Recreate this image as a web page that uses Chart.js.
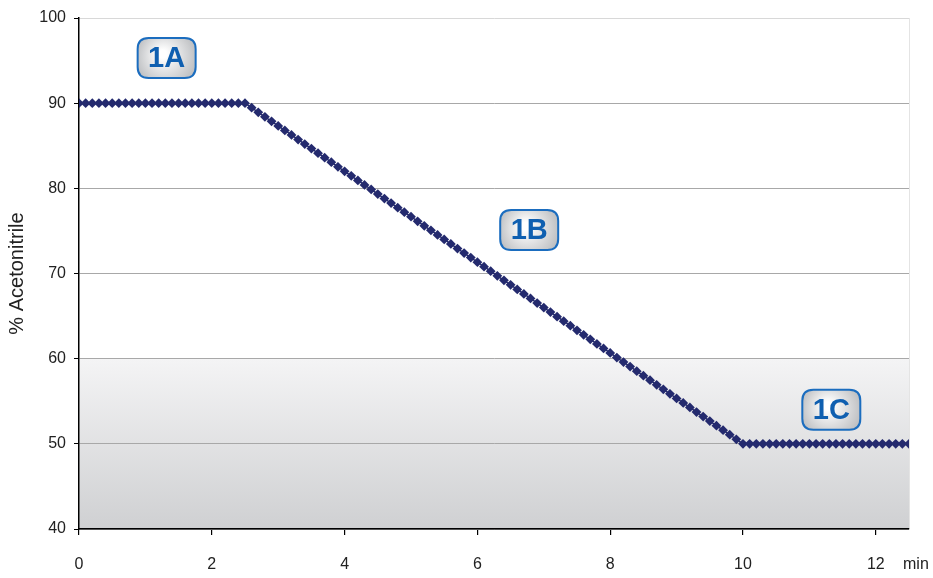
<!DOCTYPE html>
<html>
<head>
<meta charset="utf-8">
<script src="https://cdn.jsdelivr.net/npm/chart.js@4"></script>
<style>
  html, body { margin: 0; padding: 0; background: #fff; }
  #wrap { width: 933px; height: 578px; position: relative; }
</style>
</head>
<body>
<div id="wrap"><canvas id="myChart"></canvas></div>
<script>
// tiempo (min), un punto cada 0.1 min
const times = [
  0.0, 0.1, 0.2, 0.3, 0.4, 0.5, 0.6, 0.7, 0.8, 0.9,
  1.0, 1.1, 1.2, 1.3, 1.4, 1.5, 1.6, 1.7, 1.8, 1.9,
  2.0, 2.1, 2.2, 2.3, 2.4, 2.5, 2.6, 2.7, 2.8, 2.9,
  3.0, 3.1, 3.2, 3.3, 3.4, 3.5, 3.6, 3.7, 3.8, 3.9,
  4.0, 4.1, 4.2, 4.3, 4.4, 4.5, 4.6, 4.7, 4.8, 4.9,
  5.0, 5.1, 5.2, 5.3, 5.4, 5.5, 5.6, 5.7, 5.8, 5.9,
  6.0, 6.1, 6.2, 6.3, 6.4, 6.5, 6.6, 6.7, 6.8, 6.9,
  7.0, 7.1, 7.2, 7.3, 7.4, 7.5, 7.6, 7.7, 7.8, 7.9,
  8.0, 8.1, 8.2, 8.3, 8.4, 8.5, 8.6, 8.7, 8.8, 8.9,
  9.0, 9.1, 9.2, 9.3, 9.4, 9.5, 9.6, 9.7, 9.8, 9.9,
  10.0, 10.1, 10.2, 10.3, 10.4, 10.5, 10.6, 10.7, 10.8, 10.9,
  11.0, 11.1, 11.2, 11.3, 11.4, 11.5, 11.6, 11.7, 11.8, 11.9,
  12.0, 12.1, 12.2, 12.3, 12.4, 12.5
];

// % acetonitrilo
const acetonitrile = [
  90, 90, 90, 90, 90, 90, 90, 90, 90, 90,
  90, 90, 90, 90, 90, 90, 90, 90, 90, 90,
  90, 90, 90, 90, 90, 90, 89.47, 88.93, 88.40, 87.87,
  87.33, 86.80, 86.27, 85.73, 85.20, 84.67, 84.13, 83.60, 83.07, 82.53,
  82.00, 81.47, 80.93, 80.40, 79.87, 79.33, 78.80, 78.27, 77.73, 77.20,
  76.67, 76.13, 75.60, 75.07, 74.53, 74.00, 73.47, 72.93, 72.40, 71.87,
  71.33, 70.80, 70.27, 69.73, 69.20, 68.67, 68.13, 67.60, 67.07, 66.53,
  66.00, 65.47, 64.93, 64.40, 63.87, 63.33, 62.80, 62.27, 61.73, 61.20,
  60.67, 60.13, 59.60, 59.07, 58.53, 58.00, 57.47, 56.93, 56.40, 55.87,
  55.33, 54.80, 54.27, 53.73, 53.20, 52.67, 52.13, 51.60, 51.07, 50.53,
  50, 50, 50, 50, 50, 50, 50, 50, 50, 50,
  50, 50, 50, 50, 50, 50, 50, 50, 50, 50,
  50, 50, 50, 50, 50, 50
];

const xTicks = [0, 2, 4, 6, 8, 10, 12];
const yTicks = [40, 50, 60, 70, 80, 90, 100];

// etiquetas de las fases (posicion en unidades de los ejes)
const phaseNames = ["1A", "1B", "1C"];
const phaseX = [1.32, 6.78, 11.33];
const phaseY = [95.3, 75.1, 54.0];

const FONT = "'Liberation Sans', Arial, Helvetica, sans-serif";

// fondo: blanco arriba, degradado gris desde 60 hacia abajo
const bgPlugin = {
  id: "bg",
  beforeDraw(chart) {
    const { ctx, chartArea: a, scales: { y } } = chart;
    const y60 = y.getPixelForValue(60);
    ctx.save();
    const g = ctx.createLinearGradient(0, y60, 0, a.bottom);
    g.addColorStop(0, "#f4f4f5");
    g.addColorStop(1, "#cfd0d2");
    ctx.fillStyle = g;
    ctx.fillRect(a.left, y60, a.right - a.left, a.bottom - y60);
    // borde derecho tenue
    ctx.strokeStyle = "#e4e4e4";
    ctx.lineWidth = 1;
    ctx.beginPath();
    ctx.moveTo(a.right + 0.5, a.top);
    ctx.lineTo(a.right + 0.5, a.bottom);
    ctx.stroke();
    ctx.restore();
  }
};

function roundRect(ctx, x, y, w, h, r) {
  ctx.beginPath();
  ctx.moveTo(x + r, y);
  ctx.lineTo(x + w - r, y);
  ctx.quadraticCurveTo(x + w, y, x + w, y + r);
  ctx.lineTo(x + w, y + h - r);
  ctx.quadraticCurveTo(x + w, y + h, x + w - r, y + h);
  ctx.lineTo(x + r, y + h);
  ctx.quadraticCurveTo(x, y + h, x, y + h - r);
  ctx.lineTo(x, y + r);
  ctx.quadraticCurveTo(x, y, x + r, y);
  ctx.closePath();
}

const labelPlugin = {
  id: "phases",
  afterDraw(chart) {
    const { ctx, scales: { x, y }, chartArea: a } = chart;
    ctx.save();
    phaseNames.forEach((name, i) => {
      const cx = x.getPixelForValue(phaseX[i]);
      const cy = y.getPixelForValue(phaseY[i]);
      const w = 58, h = 40;
      const bx = cx - w / 2, by = cy - h / 2;
      const g = ctx.createRadialGradient(cx - 4, cy - 4, 4, cx, cy, w * 0.6);
      g.addColorStop(0, "#ffffff");
      g.addColorStop(1, "#b4b6b9");
      roundRect(ctx, bx, by, w, h, 11);
      ctx.fillStyle = g;
      ctx.fill();
      ctx.strokeStyle = "#1b6dbf";
      ctx.lineWidth = 2;
      ctx.stroke();
      ctx.fillStyle = "#0f5fb0";
      ctx.font = "bold 29px " + FONT;
      ctx.textAlign = "center";
      ctx.textBaseline = "middle";
      ctx.fillText(name, cx, cy + 1);
    });
    // unidad del eje x
    ctx.fillStyle = "#222";
    ctx.font = "16px " + FONT;
    ctx.textAlign = "left";
    ctx.textBaseline = "middle";
    ctx.fillText("min", a.right - 6, 565);
    ctx.restore();
  }
};

const ctx = document.getElementById("myChart");

new Chart(ctx, {
  type: "line",
  data: {
    datasets: [
      {
        label: "% Acetonitrile",
        data: times.map((t, i) => ({ x: t, y: acetonitrile[i] })),
        borderColor: "#242a6e",
        backgroundColor: "#242a6e",
        borderWidth: 1.5,
        pointStyle: "rectRot",
        pointRadius: 4.9,
        pointBorderWidth: 0,
        pointHoverRadius: 4.9,
        tension: 0,
      },
    ],
  },
  plugins: [bgPlugin, labelPlugin],
  options: {
    responsive: true,
    maintainAspectRatio: false,
    animation: false,
    layout: { padding: { top: 18, right: 24, left: 0, bottom: 0 } },
    plugins: {
      legend: { display: false },
      tooltip: { enabled: false },
    },
    scales: {
      x: {
        type: "linear",
        min: 0,
        max: 12.5,
        afterBuildTicks: (s) => { s.ticks = xTicks.map((v) => ({ value: v })); },
        afterFit: (s) => { s.height = 49; },
        grid: { drawOnChartArea: false, tickLength: 6, tickColor: "#000", lineWidth: 1.2 },
        border: { color: "#000", width: 1.5 },
        ticks: { color: "#222", font: { family: FONT, size: 16 }, padding: 20, maxRotation: 0 },
      },
      y: {
        min: 40,
        max: 100,
        afterBuildTicks: (s) => { s.ticks = yTicks.map((v) => ({ value: v })); },
        afterFit: (s) => { s.width = 79; },
        grid: {
          color: (c) => (c.tick && c.tick.value === 100 ? "#d8d8d8" : "#a8a8a8"),
          tickColor: "#000",
          tickLength: 5,
          lineWidth: 1,
        },
        border: { color: "#000", width: 1.5 },
        ticks: { color: "#222", font: { family: FONT, size: 16 }, padding: 8 },
        title: {
          display: true,
          text: "% Acetonitrile",
          color: "#222",
          font: { family: FONT, size: 20 },
          padding: { top: 5, bottom: 0 },
        },
      },
    },
  },
});
</script>
</body>
</html>
